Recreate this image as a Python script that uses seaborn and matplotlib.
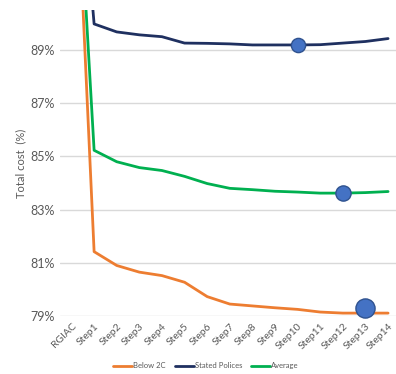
import pandas as pd
import seaborn as sns
import matplotlib.pyplot as plt
from matplotlib.lines import Line2D

# categories and values (% of total cost)
steps = ["RGIAC"] + [f"Step{i}" for i in range(1, 15)]
below_2c = [100, 81.42, 80.90, 80.65, 80.52, 80.27, 79.73, 79.45, 79.38, 79.31,
            79.25, 79.15, 79.11, 79.11, 79.11]
stated_polices = [100, 89.98, 89.68, 89.57, 89.50, 89.26, 89.25, 89.23, 89.19, 89.19,
                  89.19, 89.20, 89.26, 89.32, 89.43]
average = [100, 85.23, 84.80, 84.58, 84.47, 84.25, 83.98, 83.80, 83.75, 83.69,
           83.66, 83.62, 83.62, 83.64, 83.68]

# highlighted points
hl_steps = ["Step10", "Step12", "Step13"]
hl_values = [89.19, 83.62, 79.30]

df = pd.DataFrame({"step": steps * 3,
                   "cost": below_2c + stated_polices + average,
                   "scenario": ["Below 2C"] * 15 + ["Stated Polices"] * 15 + ["Average"] * 15})

colors = {"Below 2C": "#ED7D31", "Stated Polices": "#1F3060", "Average": "#00B050"}

sns.set_style("white")
plt.rcParams['font.family'] = ['Lato', 'DejaVu Sans']

fig = plt.figure(figsize=(3.96, 3.74), dpi=100)
ax = fig.add_axes([0.152, 0.155, 0.848, 0.818])

ax.set_xlim(-0.5, 14.35)
ax.set_ylim(79, 90.5)
ax.set_yticks([79, 81, 83, 85, 87, 89])
ax.yaxis.grid(True, color="#d9d9d9", linewidth=1)
ax.set_axisbelow(True)

sns.lineplot(data=df, x="step", y="cost", hue="scenario", palette=colors,
             linewidth=2, legend=False, ax=ax, sort=False)

x_idx = [steps.index(s) for s in hl_steps]
sizes = [105, 120, 190]
for xi, yv, sz in zip(x_idx, hl_values, sizes):
    ax.scatter(xi, yv, s=sz, color="#4472C4", edgecolor="#2F528F", linewidth=1, zorder=5,
               clip_on=False)

for spine in ax.spines.values():
    spine.set_visible(False)

ax.set_yticklabels([f"{v}%" for v in [79, 81, 83, 85, 87, 89]], color="#595959", fontsize=9)
ax.set_xticks(range(len(steps)))
ax.set_xticklabels(steps, rotation=45, ha="right", rotation_mode="anchor",
                   color="#595959", fontsize=7.5)
ax.tick_params(axis="both", length=0, pad=4)
ax.set_xlabel("")
ax.set_ylabel("Total cost  (%)", color="#595959", fontsize=8, labelpad=3)

handles = [Line2D([], [], color=colors[k], linewidth=2) for k in colors]
fig.legend(handles, list(colors), loc="center", bbox_to_anchor=(0.52, 0.022), ncol=3,
           frameon=False, fontsize=5.5, handlelength=2.5, handletextpad=0.1,
           columnspacing=1.2, labelcolor="#595959")

fig.savefig("out.png", dpi=100)
